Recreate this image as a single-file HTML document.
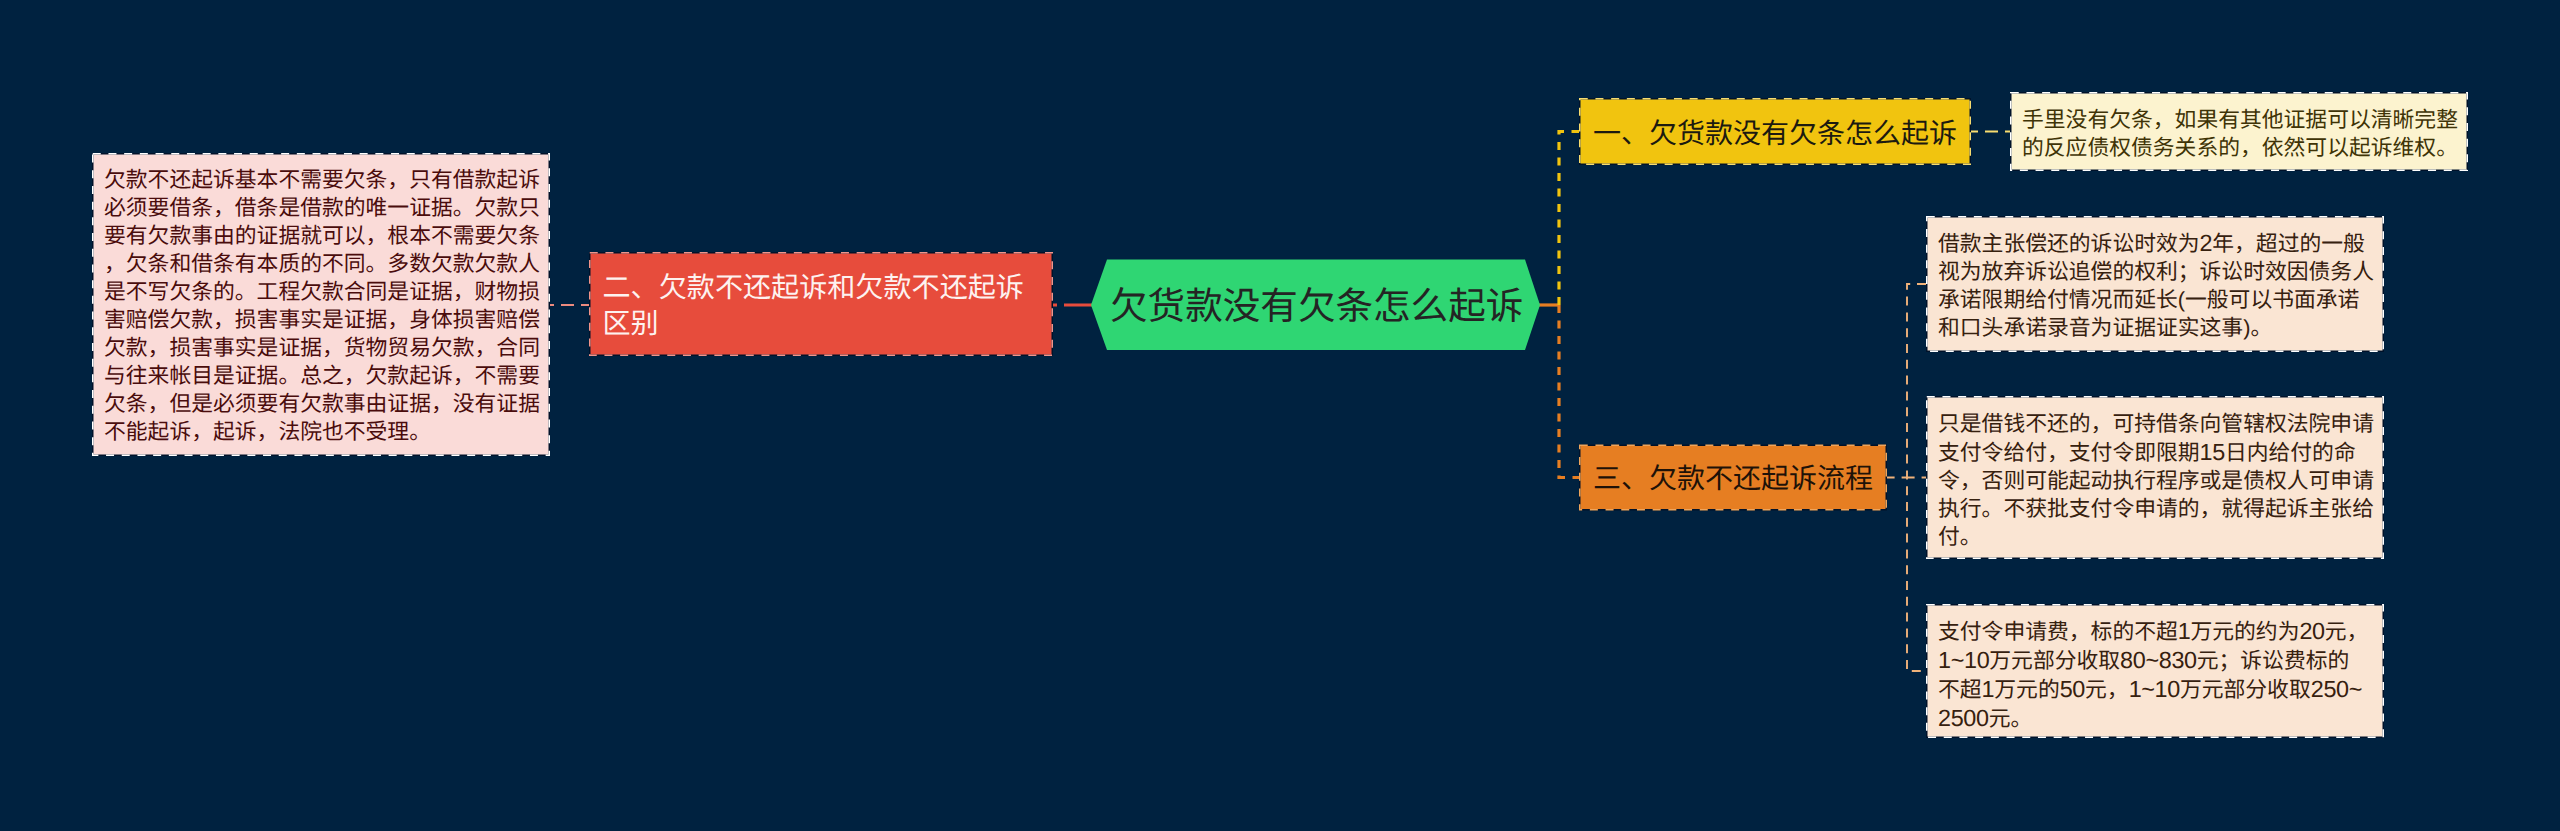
<!DOCTYPE html>
<html lang="zh-CN">
<head>
<meta charset="utf-8">
<style>
html,body{margin:0;padding:0;}
body{width:2560px;height:831px;background:#002240;position:relative;overflow:hidden;font-family:"Liberation Sans",sans-serif;}
.d{font-size:23.4px;letter-spacing:-0.35px;}
.t{position:absolute;white-space:nowrap;text-rendering:geometricPrecision;}
svg{position:absolute;left:0;top:0;}
</style>
</head>
<body>
<svg width="2560" height="831" viewBox="0 0 2560 831">

  <line x1="550" y1="305" x2="589" y2="305" stroke="#ec8b7f" stroke-width="1.9" stroke-dasharray="13 7" stroke-dashoffset="9"/>
  <line x1="1053" y1="305" x2="1092" y2="305" stroke="#e74c3c" stroke-width="3.2" stroke-dasharray="4 7 40"/>
  <line x1="1539" y1="305" x2="1559" y2="305" stroke="#e67e22" stroke-width="3.2"/>
  <path d="M1559 305 V131.5 H1579" fill="none" stroke="#f1c40f" stroke-width="3.2" stroke-dasharray="8 7.5"/>
  <path d="M1559 305 V477.5 H1579" fill="none" stroke="#e67e22" stroke-width="3.2" stroke-dasharray="8 7.5"/>
  <line x1="1971" y1="131.5" x2="2010" y2="131.5" stroke="#f7dc6f" stroke-width="1.9" stroke-dasharray="13 7" stroke-dashoffset="6"/>
  <line x1="1887" y1="477.5" x2="1926" y2="477.5" stroke="#f0b27a" stroke-width="1.9" stroke-dasharray="13 7" stroke-dashoffset="5.4"/>
  <path d="M1926 284 H1907 V671 H1926" fill="none" stroke="#f0b27a" stroke-width="1.9" stroke-dasharray="9 6.8"/>
  <polygon points="1091,305 1107,259.5 1525,259.5 1540,305 1525,350 1107,350" fill="#2fd673"/>

<rect x="92.75" y="153.75" width="456.5" height="301.5" fill="#fadbd8" stroke="#00122a" stroke-width="1.5"/>
<rect x="92.75" y="153.75" width="456.5" height="301.5" fill="none" stroke="#ffffff" stroke-width="1.5" stroke-dasharray="8 7.7"/>
<rect x="589.75" y="252.75" width="462.5" height="102.5" fill="#e74c3c" stroke="#00122a" stroke-width="1.5"/>
<rect x="589.75" y="252.75" width="462.5" height="102.5" fill="none" stroke="#f1948a" stroke-width="1.5" stroke-dasharray="8 7.7"/>
<rect x="1579.75" y="98.75" width="390.5" height="65.5" fill="#f1c40f" stroke="#00122a" stroke-width="1.5"/>
<rect x="1579.75" y="98.75" width="390.5" height="65.5" fill="none" stroke="#f7dc6f" stroke-width="1.5" stroke-dasharray="8 7.7"/>
<rect x="2010.75" y="92.75" width="456.5" height="77.5" fill="#fcf3cf" stroke="#00122a" stroke-width="1.5"/>
<rect x="2010.75" y="92.75" width="456.5" height="77.5" fill="none" stroke="#ffffff" stroke-width="1.5" stroke-dasharray="8 7.7"/>
<rect x="1579.75" y="445.25" width="306.5" height="64.5" fill="#e67e22" stroke="#00122a" stroke-width="1.5"/>
<rect x="1579.75" y="445.25" width="306.5" height="64.5" fill="none" stroke="#eea55c" stroke-width="1.5" stroke-dasharray="8 7.7"/>
<rect x="1926.75" y="216.75" width="456.5" height="134.5" fill="#fae5d3" stroke="#00122a" stroke-width="1.5"/>
<rect x="1926.75" y="216.75" width="456.5" height="134.5" fill="none" stroke="#ffffff" stroke-width="1.5" stroke-dasharray="8 7.7"/>
<rect x="1926.75" y="396.75" width="456.5" height="161.5" fill="#fae5d3" stroke="#00122a" stroke-width="1.5"/>
<rect x="1926.75" y="396.75" width="456.5" height="161.5" fill="none" stroke="#ffffff" stroke-width="1.5" stroke-dasharray="8 7.7"/>
<rect x="1926.75" y="604.75" width="456.5" height="132.5" fill="#fae5d3" stroke="#00122a" stroke-width="1.5"/>
<rect x="1926.75" y="604.75" width="456.5" height="132.5" fill="none" stroke="#ffffff" stroke-width="1.5" stroke-dasharray="8 7.7"/>
</svg>
<div class="t" style="left:1110px;top:283.5px;font-size:37.6px;line-height:44px;color:#242424">欠货款没有欠条怎么起诉</div>
<div class="t" style="left:104px;top:166px;font-size:21.8px;line-height:28px;color:#4a0c0c">欠款不还起诉基本不需要欠条，只有借款起诉<br>必须要借条，借条是借款的唯一证据。欠款只<br>要有欠款事由的证据就可以，根本不需要欠条<br>，欠条和借条有本质的不同。多数欠款欠款人<br>是不写欠条的。工程欠款合同是证据，财物损<br>害赔偿欠款，损害事实是证据，身体损害赔偿<br>欠款，损害事实是证据，货物贸易欠款，合同<br>与往来帐目是证据。总之，欠款起诉，不需要<br>欠条，但是必须要有欠款事由证据，没有证据<br>不能起诉，起诉，法院也不受理。</div>
<div class="t" style="left:602.5px;top:269.5px;font-size:28.1px;line-height:36.5px;color:#fdf2f0">二、欠款不还起诉和欠款不还起诉<br>区别</div>
<div class="t" style="left:1593px;top:116px;font-size:28.0px;line-height:36px;color:#1c1a10">一、欠货款没有欠条怎么起诉</div>
<div class="t" style="left:2022px;top:106px;font-size:21.8px;line-height:28px;color:#3f3306">手里没有欠条，如果有其他证据可以清晰完整<br>的反应债权债务关系的，依然可以起诉维权。</div>
<div class="t" style="left:1593px;top:460.7px;font-size:28.0px;line-height:36px;color:#1e1208">三、欠款不还起诉流程</div>
<div class="t" style="left:1938px;top:229px;font-size:21.8px;line-height:28px;color:#36200e">借款主张偿还的诉讼时效为<span class="d">2</span>年，超过的一般<br>视为放弃诉讼追偿的权利；诉讼时效因债务人<br>承诺限期给付情况而延长(一般可以书面承诺<br>和口头承诺录音为证据证实这事)。</div>
<div class="t" style="left:1938px;top:410px;font-size:21.8px;line-height:28px;color:#36200e">只是借钱不还的，可持借条向管辖权法院申请<br>支付令给付，支付令即限期<span class="d">15</span>日内给付的命<br>令，否则可能起动执行程序或是债权人可申请<br>执行。不获批支付令申请的，就得起诉主张给<br>付。</div>
<div class="t" style="left:1938px;top:617px;font-size:21.8px;line-height:28px;color:#36200e">支付令申请费，标的不超<span class="d">1</span>万元的约为<span class="d">20</span>元，<br><span class="d">1~10</span>万元部分收取<span class="d">80~830</span>元；诉讼费标的<br>不超<span class="d">1</span>万元的<span class="d">50</span>元，<span class="d">1~10</span>万元部分收取<span class="d">250~</span><br><span class="d">2500</span>元。</div>
</body>
</html>
